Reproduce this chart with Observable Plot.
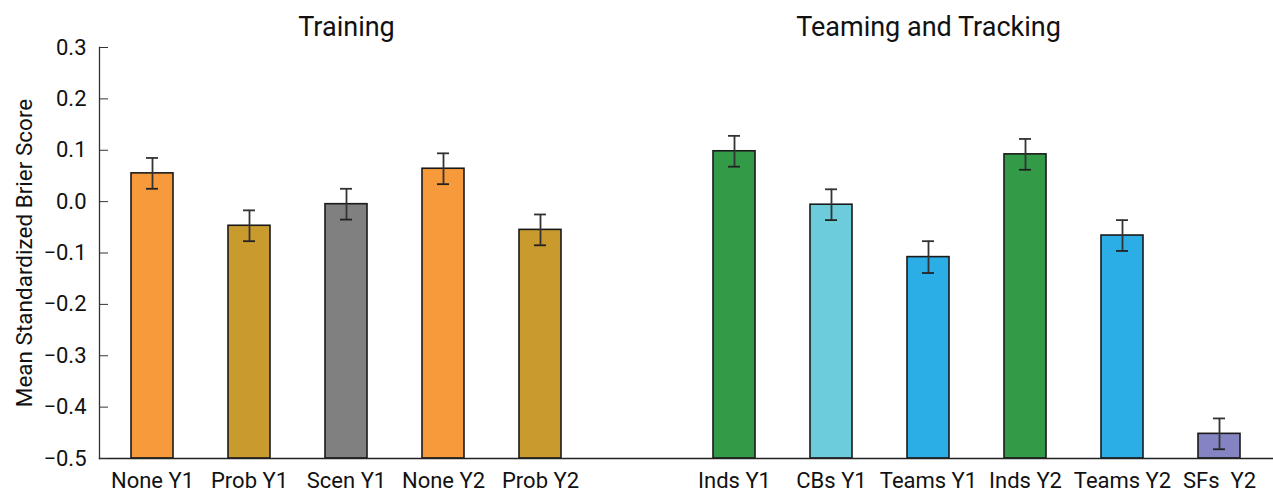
<!DOCTYPE html>
<html>
<head>
<meta charset="utf-8">
<script src="https://cdn.jsdelivr.net/npm/d3@7"></script>
<script src="https://cdn.jsdelivr.net/npm/@observablehq/plot@0.6"></script>
<style>
  html, body { margin: 0; padding: 0; background: #fff; }
  #chart svg { display: block; }
</style>
</head>
<body>
<div id="chart"></div>
<script>
// ---- data ----
const categories = ["None Y1", "Prob Y1", "Scen Y1", "None Y2", "Prob Y2",
                    "Inds Y1", "CBs Y1", "Teams Y1", "Inds Y2", "Teams Y2", "SFs\u00A0\u00A0Y2"];
const conditions = ["None", "Prob", "Scen", "None", "Prob",
                    "Inds", "CBs", "Teams", "Inds", "Teams", "SFs"];
const values = [0.055, -0.047, -0.005, 0.064, -0.055,
                0.098, -0.006, -0.108, 0.092, -0.066, -0.452];
const errors = [0.03, 0.03, 0.03, 0.03, 0.03,
                0.03, 0.03, 0.031, 0.03, 0.03, 0.03];
const spacer = " ";
const xDomain = [...categories.slice(0, 5), spacer, ...categories.slice(5)];
const yTicks = [-0.5, -0.4, -0.3, -0.2, -0.1, 0.0, 0.1, 0.2, 0.3];
const panelTitles = ["Training", "Teaming and Tracking"];
const titleAnchors = ["Scen Y1", "Teams Y1"];
const yLabel = "Mean Standardized Brier Score";

const colorDomain = ["None", "Prob", "Scen", "Inds", "CBs", "Teams", "SFs"];
const colorRange = ["#F79A3B", "#C99A2E", "#808080", "#339A48", "#6DCCDB", "#2BAEE5", "#8584C2"];

const data = categories.map((c, i) => ({
  name: c, cond: conditions[i], value: values[i],
  lo: values[i] - errors[i], hi: values[i] + errors[i]
}));
const titles = panelTitles.map((t, i) => ({title: t, at: titleAnchors[i]}));
const yMin = yTicks[0];
const font = "Roboto, 'Liberation Sans', sans-serif";

const chart = Plot.plot({
  width: 1273,
  height: 497,
  marginLeft: 99,
  marginRight: 0,
  marginTop: 47,
  marginBottom: 39,
  style: {fontFamily: font, fontSize: "22px", color: "#111", background: "#fff"},
  x: {domain: xDomain, paddingInner: 0.565, paddingOuter: 0.28},
  y: {domain: [yTicks[0], yTicks[yTicks.length - 1]]},
  color: {domain: colorDomain, range: colorRange},
  marks: [
    Plot.barY(data, {x: "name", y1: yMin, y2: "value", fill: "cond",
                     stroke: "#1a1a1a", strokeWidth: 1.6}),
    Plot.ruleX(data, {x: "name", y1: "lo", y2: "hi", stroke: "#333", strokeWidth: 1.8}),
    Plot.tickY(data, {x: "name", y: "lo", stroke: "#222", strokeWidth: 1.8, insetLeft: 15, insetRight: 15}),
    Plot.tickY(data, {x: "name", y: "hi", stroke: "#333", strokeWidth: 1.8, insetLeft: 15, insetRight: 15}),
    Plot.frame({anchor: "left", stroke: "#333", strokeWidth: 1.3}),
    Plot.frame({anchor: "bottom", stroke: "#222", strokeWidth: 1.3}),
    Plot.axisY({ticks: yTicks, tickSize: -9, tickFormat: () => "", stroke: "#333", label: null}),
    Plot.axisY({ticks: yTicks, tickSize: 0, tickPadding: 13, tickFormat: d3.format(".1f"),
                fill: "#111", fontSize: 22, label: null}),
    Plot.axisX({tickSize: 0, tickPadding: 14, fill: "#111", fontSize: 22, label: null}),
    Plot.text(titles, {x: "at", text: "title", frameAnchor: "top", lineAnchor: "bottom",
                       dy: -12, fontSize: 27, fill: "#111"}),
    Plot.text([yLabel], {text: d => d, frameAnchor: "left", rotate: -90, lineAnchor: "bottom",
                         textAnchor: "middle", dx: -68, fontSize: 22.5, fill: "#111"})
  ]
});
document.getElementById("chart").appendChild(chart);
</script>
</body>
</html>
